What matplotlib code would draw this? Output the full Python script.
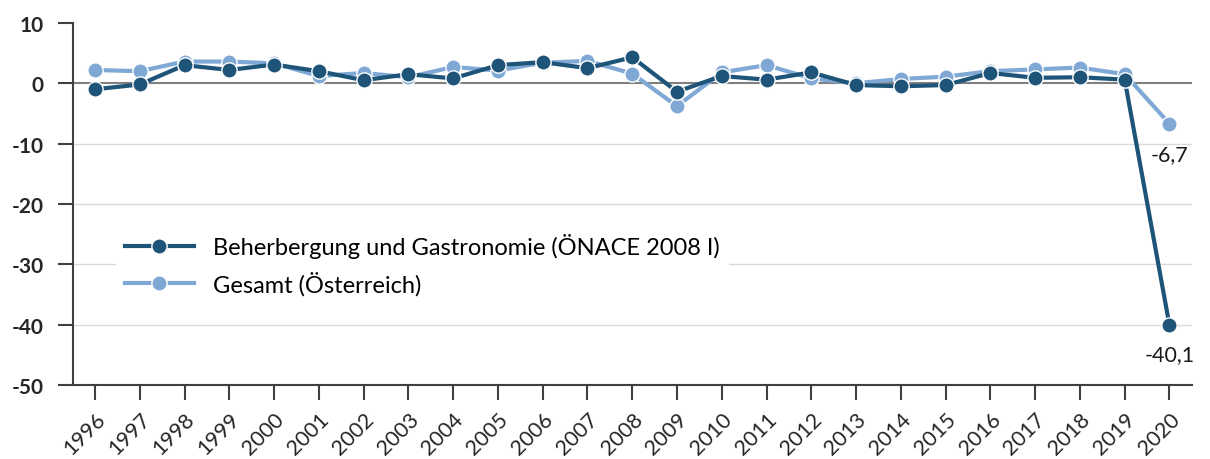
import matplotlib.pyplot as plt

years = list(range(1996, 2021))
beherbergung = [-1.0, -0.2, 3.0, 2.2, 3.1, 2.0, 0.5, 1.5, 0.8, 3.0, 3.5, 2.5, 4.3, -1.4,
                1.2, 0.6, 1.8, -0.3, -0.5, -0.3, 1.7, 0.9, 1.0, 0.6, -40.1]
gesamt = [2.2, 2.0, 3.6, 3.6, 3.3, 1.2, 1.7, 1.0, 2.7, 2.1, 3.4, 3.7, 1.6, -3.8,
          1.8, 3.0, 0.8, 0.0, 0.7, 1.1, 2.0, 2.3, 2.6, 1.5, -6.7]
labels = ["Beherbergung und Gastronomie (ÖNACE 2008 I)", "Gesamt (Österreich)"]

plt.rcParams['font.family'] = ['Lato', 'DejaVu Sans']
plt.rcParams['axes.unicode_minus'] = False

dark = '#1f5479'
light = '#7fa8d4'

fig = plt.figure(figsize=(12.1, 4.6), dpi=100)
ax = fig.add_axes([0.060, 0.161, 0.925, 0.787])

for y in [-10, -20, -30, -40]:
    ax.axhline(y, color='#d9d9d9', lw=1, zorder=0)
ax.axhline(0, color='#808080', lw=1.5, zorder=1)

ax.plot(years, gesamt, color=light, lw=3, marker='o', markersize=11,
        markeredgecolor='white', markeredgewidth=1, label=labels[1], zorder=3)
ax.plot(years, beherbergung, color=dark, lw=3, marker='o', markersize=11,
        markeredgecolor='white', markeredgewidth=1, label=labels[0], zorder=4)

ax.annotate('-6,7', (2020, gesamt[-1]), xytext=(0, -22), textcoords='offset points',
            ha='center', va='center', fontsize=15.5, color='#1a1a1a')
ax.annotate('-40,1', (2020, beherbergung[-1]), xytext=(0, -21), textcoords='offset points',
            ha='center', va='center', fontsize=15.5, color='#1a1a1a')

ax.set_xlim(1995.5, 2020.5)
ax.set_ylim(-50, 10)
ax.set_yticks(range(-50, 11, 10))
ax.set_xticks(years)
ax.set_xticklabels([str(y) for y in years], rotation=45, ha='right',
                   rotation_mode='anchor', fontsize=15.5)
ax.tick_params(axis='y', labelsize=15, length=11, width=1.5, color='#404040',
               labelcolor='#262626', pad=10)
ax.tick_params(axis='x', length=11, width=1.5, color='#404040', pad=6,
               labelcolor='#262626')
for lbl in ax.get_yticklabels():
    lbl.set_fontweight('bold')

for s in ['top', 'right']:
    ax.spines[s].set_visible(False)
for s in ['left', 'bottom']:
    ax.spines[s].set_color('#404040')
    ax.spines[s].set_linewidth(1.5)

handles, lab = ax.get_legend_handles_labels()
leg = ax.legend(handles[::-1], lab[::-1], loc='center left', bbox_to_anchor=(0.028, 0.333),
                frameon=True, fontsize=17, handlelength=2.9, labelspacing=0.55,
                handletextpad=0.8, borderpad=0.4)
leg.get_frame().set_facecolor('white')
leg.get_frame().set_edgecolor('none')
leg.get_frame().set_alpha(1)
for h in leg.legend_handles:
    h.set_markersize(11)

fig.savefig('out.png', dpi=100)
